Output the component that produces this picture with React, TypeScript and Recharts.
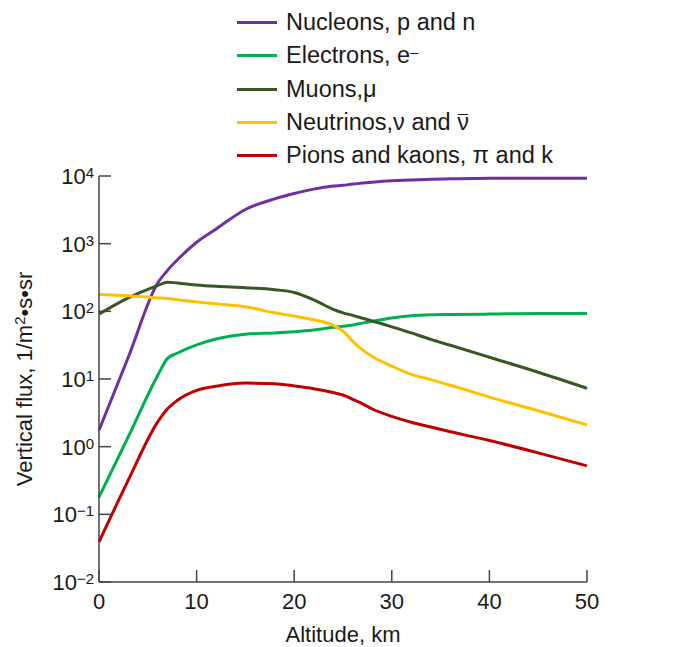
import { LineChart, Line, XAxis, YAxis } from "recharts";

// altitude in km, flux in 1/m²·s·sr
const altitude = [0, 3, 6, 7, 8, 10, 12, 15, 18, 20, 22, 24, 25, 26, 27, 28, 30, 32, 34, 36, 40, 45, 50];
const nucleons = [1.75, 21, 260, 400, 570, 1050, 1650, 3200, 4600, 5500, 6400, 7100, 7300, 7600, 7850, 8100, 8500, 8700, 8950, 9100, 9300, 9300, 9300];
const electrons = [0.18, 1.4, 11.2, 20, 24, 32, 39, 46, 48, 50, 53, 58, 60, 63, 67, 71, 80, 86, 89, 90, 91, 93, 93];
const muons = [91, 158, 240, 270, 263, 245, 234, 224, 209, 190, 148, 107, 95, 87, 79, 72, 59, 48, 38.5, 31.5, 21, 12.6, 7.3];
const neutrinos = [178, 170, 158, 155, 148, 138, 129, 117, 95, 85, 75, 62, 51, 36, 27, 21.5, 15.5, 11.7, 9.8, 8.1, 5.4, 3.4, 2.1];
const pions = [0.039, 0.32, 2.3, 3.6, 4.8, 6.8, 7.8, 8.7, 8.5, 7.9, 7.2, 6.3, 5.8, 5.0, 4.3, 3.6, 2.8, 2.3, 1.95, 1.66, 1.23, 0.81, 0.52];

const seriesKeys = ["nucleons", "electrons", "muons", "neutrinos", "pions"];
const seriesColors = ["#7030a0", "#00b050", "#385723", "#ffc000", "#c00000"];

const xTicks = [0, 10, 20, 30, 40, 50];
const yTicks = [0.01, 0.1, 1, 10, 100, 1000, 10000];
const yExponents = ["−2", "−1", "0", "1", "2", "3", "4"];

const data = altitude.map((alt, i) => ({
  alt,
  nucleons: nucleons[i],
  electrons: electrons[i],
  muons: muons[i],
  neutrinos: neutrinos[i],
  pions: pions[i],
}));

const font = "Arial, 'Liberation Sans', Helvetica, sans-serif";
const textColor = "#1a1a1a";
const axisColor = "#444";

const legendLabels = [
  <>Nucleons, p and n</>,
  <>Electrons, e<sup style={{ fontSize: 15, verticalAlign: 6 }}>–</sup></>,
  <>Muons,μ</>,
  <>
    Neutrinos,ν and{" "}
    <span style={{ position: "relative" }}>
      ν
      <span style={{ position: "absolute", left: 1, right: 1, top: 5, borderTop: "1.5px solid " + textColor }} />
    </span>
  </>,
  <>Pions and kaons, π and k</>,
];

// ticks point into the plot, so draw the tick line together with the label
function YTick(props: any) {
  const { x, y, index } = props;
  return (
    <g>
      <line x1={x + 5} x2={x + 17} y1={y} y2={y} stroke={axisColor} strokeWidth={1.5} />
      <text x={x} y={y + 8} textAnchor="end" fontSize={22} fill={textColor} fontFamily={font}>
        <tspan>10</tspan>
        <tspan fontSize={15} dy={-6}>{yExponents[index]}</tspan>
      </text>
    </g>
  );
}

function XTick(props: any) {
  const { x, y, payload } = props;
  return (
    <g>
      <line x1={x} x2={x} y1={y - 11} y2={y - 23} stroke={axisColor} strokeWidth={1.5} />
      <text x={x} y={y + 16} textAnchor="middle" fontSize={22} fill={textColor} fontFamily={font}>
        {payload.value}
      </text>
    </g>
  );
}

export default function App() {
  return (
    <div style={{ position: "absolute", left: 0, top: 0, width: 691, height: 647, background: "#fff", fontFamily: font }}>
      <LineChart width={691} height={647} data={data} margin={{ top: 176, right: 104, bottom: 0, left: 0 }}>
        <XAxis
          dataKey="alt"
          type="number"
          domain={[0, 50]}
          ticks={xTicks}
          interval={0}
          height={65}
          tickLine={false}
          tickSize={0}
          tickMargin={11}
          stroke={axisColor}
          strokeWidth={1.5}
          tick={<XTick />}
          label={{
            content: (p: any) => (
              <text x={p.viewBox.x + p.viewBox.width / 2} y={642} textAnchor="middle" fontSize={22} fill={textColor} fontFamily={font}>
                Altitude, km
              </text>
            ),
          }}
        />
        <YAxis
          type="number"
          scale="log"
          domain={[0.01, 10000]}
          allowDataOverflow
          ticks={yTicks}
          interval={0}
          width={99}
          tickLine={false}
          tickSize={0}
          tickMargin={5}
          stroke={axisColor}
          strokeWidth={1.5}
          tick={<YTick />}
          label={{
            content: (p: any) => {
              const cy = p.viewBox.y + p.viewBox.height / 2;
              return (
                <text x={32} y={cy} transform={`rotate(-90, 32, ${cy})`} textAnchor="middle" fontSize={22} fill={textColor} fontFamily={font}>
                  Vertical flux, 1/m<tspan fontSize={15} dy={-7}>2</tspan>
                  <tspan dy={7}>•s•sr</tspan>
                </text>
              );
            },
          }}
        />
        {seriesKeys.map((k, i) => (
          <Line key={k} dataKey={k} type="monotone" stroke={seriesColors[i]} strokeWidth={3} dot={false} isAnimationActive={false} />
        ))}
      </LineChart>
      <div style={{ position: "absolute", left: 237, top: 6, color: textColor }}>
        {seriesKeys.map((k, i) => (
          <div key={k} style={{ display: "flex", alignItems: "center", height: 33.3, fontSize: 23.5, whiteSpace: "nowrap" }}>
            <span style={{ display: "inline-block", width: 40, height: 3, background: seriesColors[i], marginRight: 9 }} />
            <span>{legendLabels[i]}</span>
          </div>
        ))}
      </div>
    </div>
  );
}
